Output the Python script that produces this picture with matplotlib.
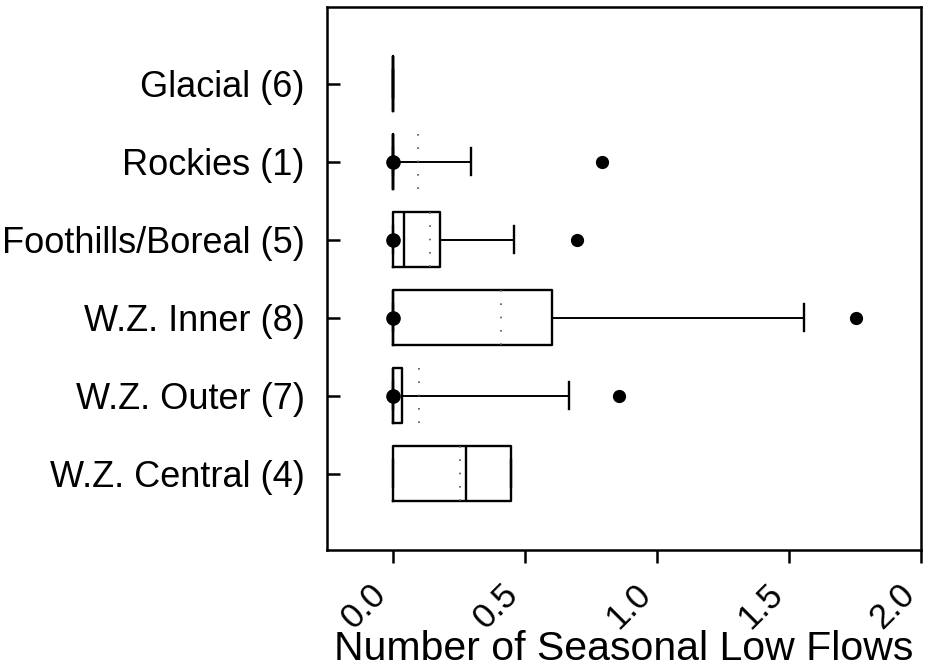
import numpy as np
import matplotlib
matplotlib.use("Agg")
import matplotlib.pyplot as plt
import matplotlib.transforms as mtransforms

plt.rcParams['font.family'] = ['Liberation Sans', 'DejaVu Sans']

# groups, top to bottom
labels = ['Glacial (6)', 'Rockies (1)', 'Foothills/Boreal (5)',
          'W.Z. Inner (8)', 'W.Z. Outer (7)', 'W.Z. Central (4)']
q1 = [0.0, 0.0, 0.0, 0.0, 0.0, 0.0]
med = [0.0, 0.0, 0.04, 0.0, 0.0, 0.275]
q3 = [0.0, 0.0, 0.177, 0.604, 0.035, 0.445]
whislo = [0.0, 0.0, 0.0, 0.0, 0.0, 0.0]
whishi = [0.0, 0.295, 0.46, 1.555, 0.668, 0.445]
means = [0.0, 0.094, 0.14, 0.41, 0.10, 0.253]
outliers = [[], [0.79], [0.695], [1.755], [0.857], []]
zero_pts = [np.nan, 0.0, 0.0, 0.0, 0.0, np.nan]

n = len(labels)
pos = np.arange(n, 0, -1)

stats = []
for i in range(n):
    stats.append(dict(q1=q1[i], med=med[i], q3=q3[i], whislo=whislo[i],
                      whishi=whishi[i], mean=means[i], fliers=outliers[i],
                      label=labels[i]))

fig = plt.figure(figsize=(9.32, 6.72), dpi=100)
ax = fig.add_axes([0.3509, 0.1815, 0.6373, 0.808])

w = 0.7
ax.bxp(stats, positions=pos, widths=w, vert=False, showmeans=False,
       boxprops=dict(color='black', linewidth=1.7),
       medianprops=dict(color='black', linewidth=1.7),
       whiskerprops=dict(color='black', linewidth=1.4, linestyle='-'),
       capprops=dict(color='black', linewidth=1.7),
       flierprops=dict(marker='o', markerfacecolor='black',
                       markeredgecolor='black', markersize=8.5))

# mean as dotted line across the box
ax.vlines(means[1:], pos[1:] - w / 2, pos[1:] + w / 2, colors='#555555',
          linestyles=(0, (1, 7)), linewidth=1.2)

# filled points at zero
ax.plot(zero_pts, pos, 'o', color='black', markersize=9.5, linestyle='none')

ax.set_xlim(-0.25, 2.0)
ax.set_ylim(0.02, 6.98)
ax.set_yticks(pos)
ax.set_yticklabels(labels, fontsize=26)
ax.set_xticks([0.0, 0.5, 1.0, 1.5, 2.0])
ax.set_xticklabels(['0.0', '0.5', '1.0', '1.5', '2.0'], fontsize=25,
                   rotation=45, ha='right', va='top')
offset = mtransforms.ScaledTranslation(0.13, 0, fig.dpi_scale_trans)
for lab in ax.get_xticklabels():
    lab.set_transform(lab.get_transform() + offset)

ax.tick_params(axis='y', direction='in', length=9.5, width=1.8, pad=16)
ax.tick_params(axis='x', direction='out', length=9.5, width=1.8, pad=10)
for sp in ax.spines.values():
    sp.set_linewidth(1.8)

ax.set_xlabel('Number of Seasonal Low Flows', fontsize=29.5, va='baseline')
ax.xaxis.set_label_coords(0.5, -0.203)

fig.savefig('out.png', dpi=100)
